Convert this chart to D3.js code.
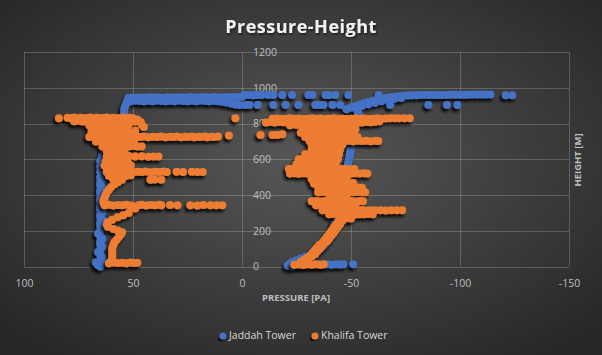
<!DOCTYPE html>
<html>
<head>
<meta charset="utf-8">
<script src="https://cdn.jsdelivr.net/npm/d3@7"></script>
<style>
  html, body { margin: 0; padding: 0; background: #2b2b2b; }
  svg { display: block; }
  text { font-family: "Open Sans", "DejaVu Sans", sans-serif; }
</style>
</head>
<body>
<svg id="chart" width="602" height="355"></svg>
<script>
// ---------------- DATA (pressure [Pa], height [m]) ----------------
const xTicks = [100, 50, 0, -50, -100, -150];
const yTicks = [0, 200, 400, 600, 800, 1000, 1200];
const seriesNames = ["Jaddah Tower", "Khalifa Tower"];

const jaddahPoints = [
  // left branch
  [65,0],[66,8],[64,15],[67,22],[65,35],[64,50],[65,65],[66,80],[65,95],[64,110],[65,125],[65,140],[64,155],[65,170],[66,185],[65,200],[64,215],[65,230],[65,245],[64,260],[65,275],[65,290],[64,305],[65,320],[65,335],[64,350],[65,365],[65,380],[64,395],[65,410],[65,425],[64,440],[65,455],[65,470],[64,485],[65,500],[64,515],[65,530],[64,545],[65,560],[64,575],[65,590],[64,605],[64,620],[63,635],[62,650],[61,665],[60,680],[59,695],[58,710],[57,725],[56,740],[56,755],[55,770],[55,785],[55,800],[54.5,815],[54.5,830],[54,845],[54,860],[54,880],[53.5,900],[53,915],[52.5,930],
  // upper band, left of zero
  [52,942],[50,945],[48,944],[46,946],[44,945],[42,947],[40,945],[38,946],[36,944],[34,947],[32,946],[30,945],[28,947],[26,946],[24,948],[22,946],[20,947],[18,948],[16,946],[14,947],[12,948],[10,946],[8,947],[6,948],[4,947],[2,948],[0,950],
  [51,925],[49,928],[47,926],[45,924],[43,927],[41,925],[39,928],[37,926],[35,924],[33,927],[31,925],[29,928],[27,926],[25,924],[23,927],[21,925],[19,928],[17,926],[15,924],[13,927],[11,925],[9,922],[7,918],[5,912],[3,906],[1,903],
  // dotted rows right of zero
  [-1,959],[-3,960],[-5,958],[-7,960],[-9,959],[-12,959],[-14.4,959],[-18.5,960],[-23,959],[-30.5,959],[-32.3,960],[-38.3,959],[-40,960],[-42.8,959],[-48.8,959],[-62.7,959],
  [-1.6,903],[-3.4,903],[-7.2,903],[-14.4,903],[-20,903],[-25.9,903],[-33.7,903],[-35.5,903],[-37.3,903],[-41.5,903],[-45,903],[-68,903],[-85.5,903],[-94,903],[-98.8,903],
  // right top curve
  [-48,880],[-50,890],[-52,898],[-54,906],[-56,913],[-58,920],[-60,927],[-62,933],[-64,938],[-66,943],[-68,947],[-70,950],[-72,953],[-74,955],[-76,957],[-78,958],[-80,958],[-82,959],[-84,959],[-86,959],[-88,960],[-90,960],[-92,960],[-94,960],[-96,961],[-98,961],[-100,961],[-102,961],[-104,961],[-106,962],[-108,962],[-110,962],[-112,962],[-114,962],[-121,958],[-124,958],
  [-52,888],[-55,898],[-58,908],[-61,916],[-64,924],[-67,931],[-70,938],[-73,943],
  // right branch
  [-21,5],[-22,15],[-23,0],[-24,10],[-25,20],[-26,5],[-27,12],[-29,10],[-31,12],[-33,10],[-35,12],[-37,11],[-39,12],[-41,10],[-43,12],[-45,11],[-46.5,12],[-51,12],
  [-23,25],[-25,35],[-27,45],[-29,55],[-31,65],[-33,78],[-35,90],[-36.5,105],[-38,120],[-39,138],[-40,155],[-41,175],[-41.5,195],[-42,215],[-42.5,235],[-42.8,255],[-43,275],[-43,295],[-43.2,315],[-43.5,335],[-44,355],[-44.5,375],[-45,395],[-45.5,415],[-46,435],[-46.5,455],[-47,475],[-47.4,495],[-47.8,515],[-48,535],[-48.3,555],[-48.6,575],[-49,595],[-49.3,615],[-49.6,635],[-49.8,655],[-50,675],[-50.2,695],[-50.4,715],[-50.6,735],[-51,755],[-51.5,775],[-52,795],[-52.5,815],[-53,835],[-53.5,855],[-53,870]
];

const khalifaPoints = [
  // ---- left cluster ----
  [84,830],[80,832],[78.5,829],[77,833],[75.5,830],[74,832],[72.5,829],[71,831],[69.5,833],[68,830],[66.5,832],[65,829],[63.5,831],[62,833],[60.5,830],[59,832],[57.5,829],[56,831],[54.5,833],[53,830],[51.5,832],[50,829],[3,830],
  [77,812],[75,815],[73,811],[71,814],[69,812],[67,815],[65,811],[63,814],[61,812],[59,815],[57,811],[55,814],[53,812],[51,815],[49,811],[47.5,814],
  [70,790],[68,793],[66,789],[64,792],[62,790],[60,793],[58,789],[56,792],[54,790],[52,793],
  [69,770],[67,773],[65,769],[63,772],[61,770],[59,773],[57,769],[55,772],[53,770],
  [48,822],[46.5,808],[46,793],[45,780],[49,760],
  [69,748],[67,751],[65,747],[63,750],[61,748],[59,751],[57,747],[55,750],[53,748],[51,750],
  [70,724],[68,727],[66,723],[64,726],[62,724],[60,727],[58,723],[56,726],[54,724],[52,727],[50,723],[48,726],[46.5,724],[45,727],[43,723],[41,726],[39,724],[37,727],[35,723],[33,726],[31.5,724],[30,727],[28,723],[26,726],[25,724],[23,727],[22,723],[20,726],[19,724],[17,727],[16,723],[14,726],[13,724],[11,727],[6,733],
  [67,700],[65,703],[63,699],[61,702],[59,700],[57,703],[55,699],[53,702],[51,700],[49.5,703],
  [64,672],[62,675],[60,671],[58,674],[56,672],[54,675],[52,671],[50,674],[48,672],[46,671],
  [62,645],[60,648],[58,644],[56,647],[54,645],
  [62,615],[60,618],[58,614],[56,617],[54,615],[52,618],[49,615],[46,617],[43,614],[40.5,616],[38.3,615],
  [62.5,588],[60.5,591],[58.5,587],[56.5,590],[54.5,588],[52.5,591],
  [63,565],[61,568],[59,564],[57,567],[55,565],[53,568],[51,565],
  [62,545],[60,548],[58,544],[56,547],[54,545],[52,548],
  [62,528],[60,531],[58,527],[56,530],[54,528],[52,531],[50,527],[48,530],[46,528],[44,531],[42,527],[40,530],[38,528],[36,531],[34.5,528],[30,530],[27,528],[23,530],[20.5,529],[18,528],
  [61,508],[59,511],[57,507],[55,510],[53,508],[51,511],
  [42,485],[40,487],[37,485],[59,487],[57,484],[55,486],
  [57,472],[58.5,460],[60,445],[61,430],[62,415],[62.5,400],[63,385],[63.5,370],[63.5,358],
  [63,342],[61,345],[59,341],[57,344],[55,342],[53,345],[51,341],[50,336],[47.5,342],[46,345],[44,341],[42,344],[40,342],[38,345],[37,342],[33,344],[29.6,342],[23.7,343],[20.5,341],[17.7,344],[14.5,342],[11.7,343],[9,342],
  [49,325],[52,300],[54.5,287],[57,275],[59.5,262],[61.5,248],[62,235],[61.5,222],[59,210],[57,202],[55,192],[55.5,180],[56.5,165],[57.5,150],[58.5,135],[59,120],[59.5,105],[59.5,90],[59.5,75],[59.5,60],[59.5,45],[60,30],
  [61,18],[59,22],[57,19],[55,21],[53,18],[51,22],[49.5,19],[48,21],
  // ---- right cluster ----
  [-14,826],[-16,828],[-18,825],[-20,827],[-22,829],[-24,826],[-26,828],[-28,825],[-30,827],[-32,829],[-34,826],[-36,828],[-38,825],[-40,827],[-42,829],[-44,826],[-46,828],[-48,825],[-50,827],[-52,829],[-54,826],[-56,828],[-58,825],[-60,827],[-62,829],[-64,826],[-66,828],[-68,830],[-70,829],[-72,830],[-74.5,829],[-77,830],
  [-11,805],[-13,808],[-15,806],[-17,809],[-19,807],[-21,805],[-23,808],[-25,806],[-27,809],[-29,807],[-31,805],[-33,808],[-35,806],[-37,809],[-39,807],[-41,805],[-43,808],[-45,806],[-47,809],[-49,807],[-51,805],[-53,808],[-55,806],[-57,809],[-59,807],[-61,810],[-63,812],
  [-22,790],[-25,792],[-28,789],[-31,791],[-34,790],[-37,792],[-40,789],[-43,791],[-46,790],[-49,792],[-52,789],
  [-8.5,735],[-14,736],[-16.2,735],[-18.5,740],
  [-28,770],[-30,772],[-32,769],[-34,771],[-36,770],[-38,772],[-40,769],[-42,771],[-44,770],[-46,772],[-48,769],[-50,771],[-52,768],
  [-27,748],[-29,750],[-31,747],[-33,749],[-35,748],[-37,750],[-39,747],[-41,749],[-43,748],[-45,750],[-47,747],[-49,749],[-51,748],
  [-29,725],[-31,727],[-33,724],[-35,726],[-37,725],[-39,727],[-41,724],[-43,726],[-45,725],[-47,727],[-49,724],[-51,726],[-53,724],
  [-31,702],[-33,704],[-35,701],[-37,703],[-39,702],[-41,704],[-43,701],[-45,703],[-47,702],[-49,704],[-51,701],[-53,703],[-55,702],[-57,704],[-59,701],[-61,703],[-62.5,702],
  [-32,680],[-34,682],[-36,679],[-38,681],[-40,680],[-42,682],[-44,679],[-46,681],
  [-32,655],[-34,657],[-36,654],[-38,656],[-40,655],[-42,657],[-44,654],[-45,656],
  [-29,628],[-31,630],[-33,627],[-35,629],[-37,628],[-39,630],[-41,627],[-43,629],[-44.5,628],
  [-26,600],[-28,602],[-30,599],[-32,601],[-34,600],[-36,602],[-38,599],[-40,601],[-42,600],[-44,602],
  [-25,572],[-27,574],[-29,571],[-31,573],[-33,572],[-35,574],[-37,571],[-39,573],[-41,572],[-43,574],
  [-21.5,545],[-23.5,547],[-25.5,544],[-27.5,546],[-29.5,545],[-31.5,547],[-33.5,544],[-35.5,546],[-37.5,545],[-39.5,547],[-41.5,544],[-43.5,546],[-45.5,545],[-47.5,547],[-49.5,544],[-51.5,546],
  [-22,520],[-24,522],[-26,519],[-28,521],[-30,520],[-32,522],[-34,519],[-36,521],[-38,520],[-40,522],[-42,519],[-44,521],[-46,520],[-48,522],[-50,519],[-52,521],[-54,520],[-56,522],[-57.5,520],
  [-32,490],[-34,492],[-36,489],[-38,491],[-40,490],[-42,492],[-44,489],[-46,491],[-48,490],
  [-33,465],[-35,467],[-37,464],[-39,466],[-41,465],[-43,467],[-45,464],[-47,466],[-49,465],[-51,467],
  [-35,440],[-37,442],[-39,439],[-41,441],[-43,440],[-45,442],[-47,439],[-49,441],[-51,440],[-53,442],[-55,440],
  [-35,415],[-37,417],[-39,414],[-41,416],[-43,415],[-45,417],[-47,414],[-49,416],[-51,415],[-53,417],[-55,415],[-56.5,416],
  [-40.5,395],[-43,397],[-45.5,394],[-48,396],
  [-32,365],[-34,367],[-36,364],[-38,366],[-40,365],[-42,367],[-44,364],[-46,366],[-48,365],[-50,367],[-52,364],[-54,366],[-55.5,365],
  [-34,342],[-36,344],[-38,341],[-40,343],[-42,342],[-44,344],[-46,341],[-48,343],[-50,342],[-52,344],
  [-37,314],[-39,316],[-41,313],[-43,315],[-45,314],[-47,316],[-49,313],[-51,315],[-53,314],[-55,316],[-57,313],[-59,315],[-61,314],[-63.5,315],[-66,313],[-68.5,315],[-71,314],[-73.5,315],
  [-40,292],[-42,294],[-44,291],[-46,293],[-48,292],[-50,294],[-52,291],[-54,293],[-56,292],[-58,294],[-60,292],
  [-46,272],[-48,270],[-50,268],
  [-44,250],[-43,232],[-42,215],[-41,198],[-40,182],[-39,166],[-38,150],[-37,135],[-35.5,120],[-34.5,105],[-33.5,92],[-32.5,78],[-31.5,63],[-30,50],[-28.5,38],[-27,26],
  [-46,256],[-45,238],[-44,221],[-43,204],[-42,188],[-41,172],[-40,156],[-39,141],[-37.5,126],[-36.5,111],[-35.5,98],[-34.5,84],[-33.5,69],[-32,56],[-30.5,44],[-29,32],
  [-24,10],[-26,13],[-28,9],[-30,12],[-32,10],[-34,13],[-36,10],[-37.5,12]
];

const seriesColors = ["#4472C4", "#ED7D31"];

// ---------------- CHART ----------------
const svg = d3.select("#chart");
const W = 602, H = 355;

const defs = svg.append("defs");
const grad = defs.append("radialGradient").attr("id", "bg")
  .attr("cx", "50%").attr("cy", "45%").attr("r", "70%");
grad.append("stop").attr("offset", "0%").attr("stop-color", "#575757");
grad.append("stop").attr("offset", "100%").attr("stop-color", "#262626");

const f = defs.append("filter").attr("id", "shadow")
  .attr("x", "-20%").attr("y", "-20%").attr("width", "140%").attr("height", "140%");
f.append("feDropShadow").attr("dx", -2).attr("dy", 3).attr("stdDeviation", 1.6)
  .attr("flood-color", "#000").attr("flood-opacity", 0.85);

const tf = defs.append("filter").attr("id", "tshadow")
  .attr("x", "-10%").attr("y", "-30%").attr("width", "120%").attr("height", "160%");
tf.append("feDropShadow").attr("dx", 1).attr("dy", 1.5).attr("stdDeviation", 1)
  .attr("flood-color", "#000").attr("flood-opacity", 0.6);

svg.append("rect").attr("width", W).attr("height", H).attr("fill", "url(#bg)");

const x = d3.scaleLinear().domain([100, -150]).range([24, 569]);
const y = d3.scaleLinear().domain([0, 1200]).range([266.5, 52]);

// gridlines
const grid = svg.append("g").attr("stroke", "#d9d9d9").attr("stroke-opacity", 0.25).attr("stroke-width", 1);
grid.selectAll("line.h").data(yTicks).join("line")
  .attr("x1", x(100)).attr("x2", x(-150))
  .attr("y1", d => Math.round(y(d)) + 0.5).attr("y2", d => Math.round(y(d)) + 0.5);
grid.selectAll("line.v").data(xTicks).join("line")
  .attr("y1", y(0)).attr("y2", y(1200))
  .attr("x1", d => Math.round(x(d)) + 0.5).attr("x2", d => Math.round(x(d)) + 0.5);

// axes (labels)
const fmt = d => String(d);
const xAxis = svg.append("g").attr("transform", `translate(0,${y(0)})`)
  .call(d3.axisBottom(x).tickValues(xTicks).tickSize(0).tickPadding(13).tickFormat(fmt));
const yAxis = svg.append("g").attr("transform", `translate(${x(0)},0)`)
  .call(d3.axisRight(y).tickValues(yTicks).tickSize(0).tickPadding(11).tickFormat(fmt));
[xAxis, yAxis].forEach(a => {
  a.select(".domain").remove();
  a.selectAll("text").attr("fill", "#bfbfbf").style("font-size", "10.5px")
    .style("font-family", '"Open Sans", sans-serif');
});

// series
const series = [jaddahPoints, khalifaPoints];
series.forEach((pts, i) => {
  svg.append("g").attr("filter", "url(#shadow)")
    .selectAll("circle").data(pts).join("circle")
    .attr("cx", d => x(d[0])).attr("cy", d => y(d[1])).attr("r", 4)
    .attr("fill", seriesColors[i]);
});

// title
svg.append("text").attr("x", 301).attr("y", 33).attr("text-anchor", "middle")
  .attr("fill", "#f2f2f2").style("font-size", "18px").style("font-weight", "bold")
  .style("letter-spacing", "0.5px").attr("filter", "url(#tshadow)")
  .text("Pressure-Height");

// axis titles
svg.append("text").attr("x", 296).attr("y", 301).attr("text-anchor", "middle")
  .attr("fill", "#bfbfbf").style("font-size", "9.5px").style("font-weight", "bold")
  .text("PRESSURE [PA]");
svg.append("text").attr("transform", "translate(581,160) rotate(-90)").attr("text-anchor", "middle")
  .attr("fill", "#bfbfbf").style("font-size", "9.5px").style("font-weight", "bold")
  .text("HEIGHT [M]");

// legend
const legend = svg.append("g");
const legendX = [223, 315];
seriesNames.forEach((name, i) => {
  legend.append("circle").attr("cx", legendX[i]).attr("cy", 336).attr("r", 3.5)
    .attr("fill", seriesColors[i]).attr("filter", "url(#shadow)");
  legend.append("text").attr("x", legendX[i] + 6).attr("y", 339)
    .attr("fill", "#d9d9d9").style("font-size", "10.5px").text(name);
});
</script>
</body>
</html>
